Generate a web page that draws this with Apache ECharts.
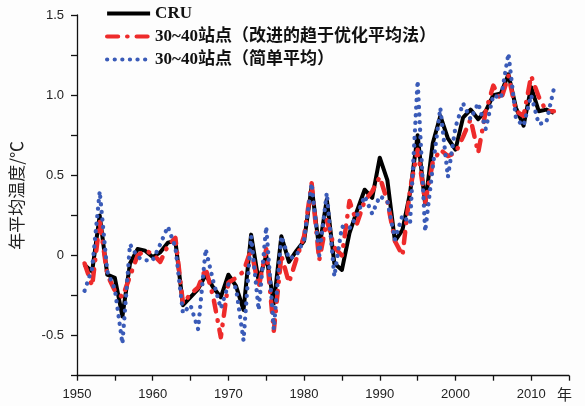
<!DOCTYPE html>
<html><head><meta charset="utf-8">
<script src="https://cdn.jsdelivr.net/npm/echarts@6/dist/echarts.min.js"></script>
<style>html,body{margin:0;padding:0;background:#fdfdfd}#c{width:585px;height:406px}</style>
</head><body><div id="c"></div>
<script>
const years = [1951,1952,1953,1954,1955,1956,1957,1958,1959,1960,
  1961,1962,1963,1964,1965,1966,1967,1968,1969,1970,
  1971,1972,1973,1974,1975,1976,1977,1978,1979,1980,
  1981,1982,1983,1984,1985,1986,1987,1988,1989,1990,
  1991,1992,1993,1994,1995,1996,1997,1998,1999,2000,
  2001,2002,2003,2004,2005,2006,2007,2008,2009,2010,
  2011,2012,2013];
const cru = [-0.06,-0.10,0.25,-0.12,-0.14,-0.38,-0.05,0.04,0.03,-0.01,
  0.02,0.08,0.09,-0.31,-0.26,-0.21,-0.12,-0.20,-0.26,-0.12,
  -0.19,-0.34,0.13,-0.16,0.00,-0.30,0.12,-0.04,0.03,0.09,
  0.43,0.04,0.35,-0.05,-0.09,0.14,0.28,0.41,0.36,0.61,
  0.47,0.09,0.16,0.39,0.75,0.32,0.70,0.87,0.73,0.66,
  0.86,0.91,0.85,0.90,1.00,1.01,1.13,0.92,0.81,1.05,
  0.90,0.91,0.89];
const improved = [-0.05,-0.19,0.21,-0.12,-0.22,-0.26,-0.13,0.00,0.03,0.01,
  -0.04,0.06,0.11,-0.30,-0.24,-0.20,-0.08,-0.26,-0.51,-0.17,
  -0.14,-0.10,0.04,-0.20,0.04,-0.47,0.00,-0.17,-0.02,0.12,
  0.45,-0.03,0.22,0.05,0.00,0.34,0.20,0.34,0.40,0.49,
  0.34,0.09,0.00,0.41,0.66,0.33,0.58,0.66,0.62,0.64,
  0.74,0.85,0.64,0.90,1.06,0.97,1.12,0.90,0.87,1.12,
  0.99,0.90,0.90];
const simple = [-0.22,-0.08,0.40,-0.10,-0.21,-0.55,0.07,-0.01,-0.03,-0.03,
  0.07,0.18,0.05,-0.36,-0.31,-0.46,0.04,-0.16,-0.33,-0.18,
  -0.20,-0.53,0.12,-0.34,0.18,-0.46,0.12,-0.02,0.00,0.10,
  0.45,0.00,0.39,-0.13,0.18,0.17,0.25,0.37,0.26,0.37,
  0.34,0.10,0.25,0.20,1.09,0.15,0.55,0.92,0.49,0.80,
  0.95,0.85,0.95,0.79,1.00,0.98,1.26,0.85,0.81,1.00,
  0.82,0.83,1.04];
const seriesNames = ['CRU','30~40站点（改进的趋于优化平均法）','30~40站点（简单平均）'];
const xName = '年';
const yName = '年平均温度/℃';

const pairs = arr => years.map((y, i) => [y, arr[i]]);
const chart = echarts.init(document.getElementById('c'), null, {renderer: 'canvas'});
const labelFont = 'Liberation Sans, Arial, sans-serif';
const serifFont = 'Liberation Serif, "Noto Sans CJK SC", serif';
chart.setOption({
  backgroundColor: '#fdfdfd',
  animation: false,
  grid: {left: 73.5, right: 16, top: 15, bottom: 30.3},
  legend: {
    orient: 'vertical', left: 100, top: 0, itemWidth: 43, itemHeight: 12, itemGap: 6,
    itemStyle: {opacity: 0},
    lineStyle: {width: 4.2},
    textStyle: {fontFamily: serifFont, fontSize: 17, fontWeight: 'bold', color: '#111'},
    data: seriesNames
  },
  xAxis: {
    type: 'value', min: 1950, max: 2015, interval: 5,
    name: xName, nameLocation: 'end', nameGap: -12,
    nameTextStyle: {fontFamily: '"Noto Sans CJK SC", sans-serif', fontSize: 15, color: '#222', verticalAlign: 'top', padding: [11, 0, 0, 0]},
    axisLine: {onZero: false, lineStyle: {color: '#111', width: 1.3}},
    axisTick: {show: true, inside: false, length: 5, lineStyle: {color: '#111', width: 1.3}},
    axisLabel: {margin: 12, fontFamily: labelFont, fontSize: 13, color: '#222',
      formatter: v => (v % 10 === 0 && v < 2015) ? String(v) : ''},
    splitLine: {show: false}
  },
  yAxis: {
    type: 'value', min: -0.75, max: 1.5, interval: 0.25,
    name: yName, nameLocation: 'middle', nameGap: 52, nameRotate: 90,
    nameTextStyle: {fontFamily: '"Noto Sans CJK SC", sans-serif', fontSize: 17, color: '#222'},
    axisLine: {show: true, onZero: false, lineStyle: {color: '#111', width: 1.3}},
    axisTick: {show: true, inside: false, length: 6, lineStyle: {color: '#111', width: 1.3}},
    axisLabel: {margin: 13, fontFamily: labelFont, fontSize: 13, color: '#222',
      formatter: v => {
        const d = v * 2;
        if (Math.abs(d - Math.round(d)) > 1e-6) return '';
        if (Math.abs(v) < 1e-9) return '0';
        return v.toFixed(1);
      }},
    splitLine: {show: false}
  },
  series: [
    {name: seriesNames[0], type: 'line', data: pairs(cru), symbol: 'none', z: 2,
      lineStyle: {color: '#000', width: 4, join: 'round'}, itemStyle: {color: '#000'}},
    {name: seriesNames[1], type: 'line', data: pairs(improved), symbol: 'none', z: 3,
      lineStyle: {color: '#ee2b2b', width: 4.5, type: [11, 9, 0.5, 9], cap: 'round', join: 'round'}, itemStyle: {color: '#ee2b2b'}},
    {name: seriesNames[2], type: 'line', data: pairs(simple), symbol: 'none', z: 4,
      lineStyle: {color: '#3a5bb8', width: 4.3, type: [0.1, 7.5], cap: 'round', join: 'round'}, itemStyle: {color: '#3a5bb8'}}
  ]
});
</script></body></html>
